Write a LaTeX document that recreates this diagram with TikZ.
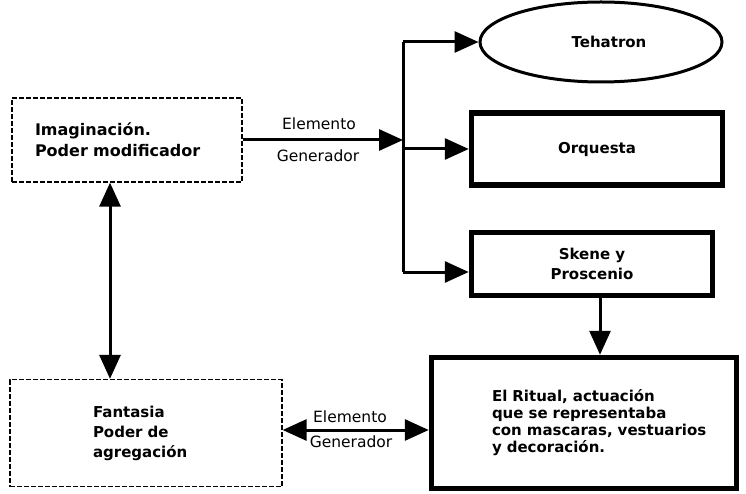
\documentclass[tikz,border=0pt]{standalone}
\usepackage{fontspec}
\setmainfont{DejaVu Sans}
\usetikzlibrary{arrows.meta,shapes.geometric}
\begin{document}
\begin{tikzpicture}[x=1pt,y=-1pt,
  txt/.style={font=\bfseries\fontsize{15}{17}\selectfont},
  softbox/.style={draw,dash pattern=on 5pt off 2pt,line width=1.3pt,rectangle,txt},
  heavybox/.style={draw,line width=5.5pt,rectangle,txt,align=center},
  link/.style={line width=3pt},
  tip/.style={-{Triangle[length=24pt,width=21pt]}},
  bothtip/.style={{Triangle[length=24pt,width=21pt]}-{Triangle[length=24pt,width=21pt]}},
  lbl/.style={font=\fontsize{15.5}{18}\selectfont,inner sep=0pt}]
\useasboundingbox (0,0) rectangle (746,494);

% left column
\node[softbox,font=\bfseries\fontsize{16}{21}\selectfont,minimum width=230,minimum height=84,
  text width=184,inner xsep=23,align=left] (imag) at (127,140) {Imaginación.\\Poder modificador};
\node[softbox,font=\bfseries\fontsize{15}{20}\selectfont,minimum width=272,minimum height=107,
  text width=106,inner xsep=83,align=left] (fant) at (146,433) {Fantasia\\Poder de\\agregación};

% right column
\node[draw,ellipse,line width=3pt,minimum width=242,minimum height=80,txt] (ell) at (601,42) {\hspace*{16pt}Tehatron};
\node[heavybox,minimum width=251,minimum height=72] (orq) at (597,149) {Orquesta};
\node[heavybox,font=\bfseries\fontsize{15}{20}\selectfont,minimum width=241,minimum height=63]
  (sken) at (592,264) {Skene y\\Proscenio};
% text block starts 60pt in from the left side; long lines run on to the right
\node[heavybox,minimum width=305,minimum height=131,text width=184,inner xsep=0,align=left]
  (rit) at (584,423) {\mbox{El Ritual, actuación}\\\mbox{que se representaba}\\\mbox{con mascaras, vestuarios}\\\mbox{y decoración.}};

% branching trunk
\coordinate (jn) at (403,140);
\coordinate (bt) at (403,42);
\coordinate (bm) at (403,149);
\coordinate (bb) at (403,272);
\draw[link,tip] (imag.east) -- (jn);
\draw[link] (bt) -- (bb);
\draw[link,tip] (bt) -- (ell.west);
\draw[link,tip] (bm) -- (orq.west);
\draw[link,tip] (bb) -- (bb -| sken.west);

% vertical links
\coordinate (vx) at (110,0);
\coordinate (vr) at (600,0);
\draw[link,bothtip] (imag.south -| vx) -- (fant.north -| vx);
\draw[link,tip] (sken.south -| vr) -- (rit.north -| vr);

% lower link
\coordinate (lo) at (0,430);
\draw[link,bothtip] (fant.east |- lo) -- (rit.west |- lo);

% link labels
\node[lbl] (l1) at (319,124) {Elemento};
\node[lbl] (l2) at (318,156) {Generador};
\node[lbl] (l3) at (350,417) {Elemento};
\node[lbl] (l4) at (351,442) {Generador};
\end{tikzpicture}
\end{document}
